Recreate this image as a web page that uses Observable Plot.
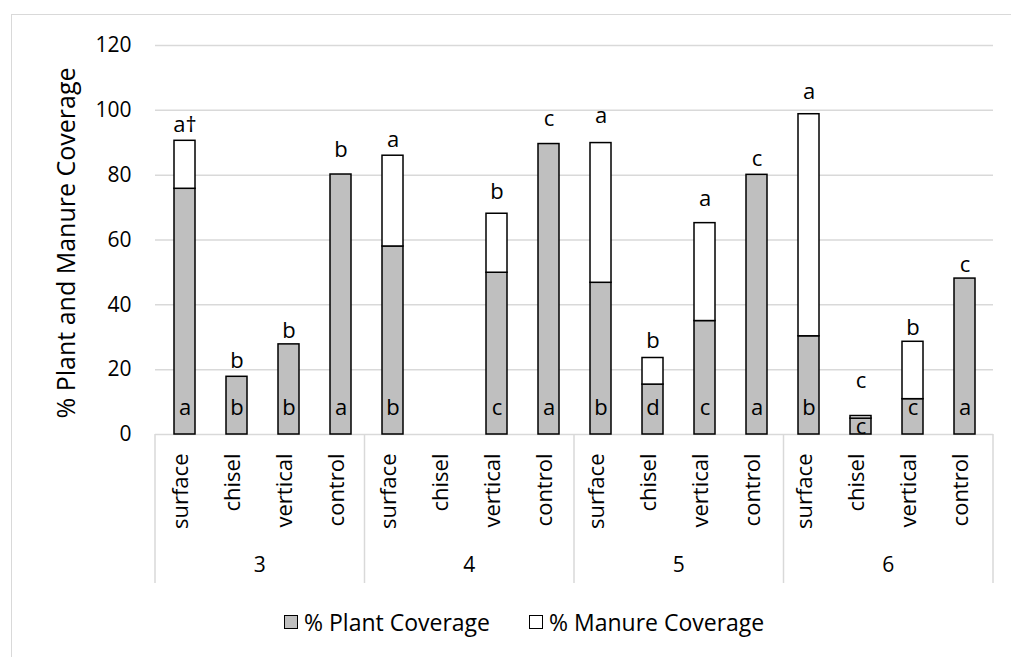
<!DOCTYPE html>
<html>
<head>
<meta charset="utf-8">
<script src="https://cdn.jsdelivr.net/npm/d3@7"></script>
<script src="https://cdn.jsdelivr.net/npm/@observablehq/plot@0.6"></script>
<style>
  body { margin: 0; background: #fff; font-family: "Open Sans", sans-serif; color: #000; }
  #wrap { position: relative; width: 1011px; height: 657px; overflow: hidden; }
  #border { position: absolute; left: 11px; top: 14px; width: 1100px; height: 800px; border: 1.5px solid #d9d9d9; box-sizing: border-box; pointer-events: none; }
  #chart { position: relative; }
  #legend { position: relative; height: 44px; display: flex; align-items: center; padding-left: 284px; font-size: 23px; }
  .item { display: flex; align-items: center; margin-right: 39px; }
  .sw { width: 12px; height: 12px; border: 1.5px solid #000; margin-right: 6px; }
</style>
</head>
<body>
<div id="wrap">
  <div id="border"></div>
  <div id="chart"></div>
  <div id="legend"></div>
</div>
<script>
// ---- data ----
const groups = ["3", "4", "5", "6"];
const treatments = ["surface", "chisel", "vertical", "control"];
const seriesNames = ["% Plant Coverage", "% Manure Coverage"];
const seriesColors = ["#bfbfbf", "#ffffff"];
const yTicks = [0, 20, 40, 60, 80, 100, 120];
const yTitle = "% Plant and Manure Coverage";

// % plant coverage (lower segment), by group then treatment
const plant = [
  [75.8, 17.8, 27.8, 80.2],
  [58.0, null, 49.9, 89.6],
  [46.8, 15.4, 35.0, 80.1],
  [30.3, 4.9, 10.9, 48.1]
];
// % manure coverage (upper segment)
const manure = [
  [14.8, 0, 0, 0],
  [28.0, null, 18.2, 0],
  [43.1, 8.2, 30.2, 0],
  [68.5, 0.8, 17.7, 0]
];
// letters above bars (total coverage) and level they sit at
const topLetters = [
  ["a\u2020", "b", "b", "b"],
  ["a", "", "b", "c"],
  ["a", "b", "a", "c"],
  ["a", "c", "b", "c"]
];
const letterAt = [
  [93.4, 20.5, 29.7, 85.7],
  [88.8, null, 72.8, 95.2],
  [96.2, 26.6, 70.6, 82.9],
  [103.5, 14.3, 30.6, 50.0]
];
// letters inside bars (plant coverage)
const insideLetters = [
  ["a", "b", "b", "a"],
  ["b", "", "c", "a"],
  ["b", "d", "c", "a"],
  ["b", "c", "c", "a"]
];

// ---- build tables ----
const rows = [];
groups.forEach((g, i) => treatments.forEach((t, j) => {
  rows.push({
    key: g + "|" + t, group: g, treatment: t,
    plant: plant[i][j], manure: manure[i][j],
    top: topLetters[i][j], at: letterAt[i][j], inside: insideLetters[i][j]
  });
}));
const keys = rows.map(d => d.key);
const long = rows.flatMap(d => [
  {key: d.key, series: seriesNames[0], value: d.plant},
  {key: d.key, series: seriesNames[1], value: d.manure}
]).filter(d => d.value);

const groupBoxes = (index, scales, values, dims) => {
  const g = d3.create("svg:g");
  const x0 = dims.marginLeft, x1 = dims.width - dims.marginRight;
  const yb = dims.height - dims.marginBottom;
  const w = (x1 - x0) / groups.length;
  for (let i = 0; i <= groups.length; i++) {
    g.append("line")
      .attr("x1", x0 + i * w).attr("x2", x0 + i * w)
      .attr("y1", yb).attr("y2", yb + 149)
      .attr("stroke", "#d9d9d9").attr("stroke-width", 1.5);
  }
  groups.forEach((gr, i) => {
    g.append("text")
      .attr("x", x0 + (i + 0.5) * w).attr("y", yb + 131)
      .attr("dy", "0.32em").attr("text-anchor", "middle")
      .attr("font-size", 21).attr("fill", "#000")
      .text(gr);
  });
  return g.node();
};

const chart = Plot.plot({
  width: 1011,
  height: 600,
  marginLeft: 155,
  marginRight: 18,
  marginTop: 45,
  marginBottom: 166,
  style: {fontFamily: "'Open Sans', sans-serif", fontSize: "21px", color: "#000", background: "transparent", overflow: "visible"},
  x: {domain: keys, paddingInner: 0.6, paddingOuter: 0.3, axis: null},
  y: {domain: [0, 120], axis: null},
  color: {domain: seriesNames, range: seriesColors},
  marks: [
    Plot.gridY(yTicks, {stroke: "#d9d9d9", strokeOpacity: 1, strokeWidth: 1.5}),
    Plot.axisY(yTicks, {tickSize: 0, tickPadding: 24, fontSize: 21, label: null}),
    Plot.barY(long, {x: "key", y: "value", fill: "series", stroke: "#000", strokeWidth: 1.5}),
    Plot.text(rows.filter(d => d.top), {x: "key", y: "at", text: "top", lineAnchor: "bottom", fontSize: 22, fill: "#000"}),
    Plot.text(rows.filter(d => d.inside && d.plant >= 8), {x: "key", y: () => 0, text: "inside", lineAnchor: "bottom", dy: -19.5, fontSize: 22, fill: "#000"}),
    Plot.text(rows.filter(d => d.inside && d.plant < 8), {x: "key", y: d => d.plant / 2, text: "inside", fontSize: 22, fill: "#000"}),
    Plot.text(rows, {x: "key", frameAnchor: "bottom", text: "treatment", rotate: -90, textAnchor: "end", dy: 19, dx: 3, fontSize: 22, fill: "#000"}),
    Plot.text([yTitle], {frameAnchor: "left", rotate: -90, textAnchor: "middle", lineAnchor: "middle", dx: -89, dy: 3, fontSize: 25, fill: "#000"}),
    groupBoxes
  ]
});
document.getElementById("chart").appendChild(chart);

const legend = document.getElementById("legend");
seriesNames.forEach((name, i) => {
  const item = document.createElement("div");
  item.className = "item";
  const sw = document.createElement("div");
  sw.className = "sw";
  sw.style.background = seriesColors[i];
  const label = document.createElement("span");
  label.textContent = name;
  item.appendChild(sw);
  item.appendChild(label);
  legend.appendChild(item);
});
</script>
</body>
</html>
